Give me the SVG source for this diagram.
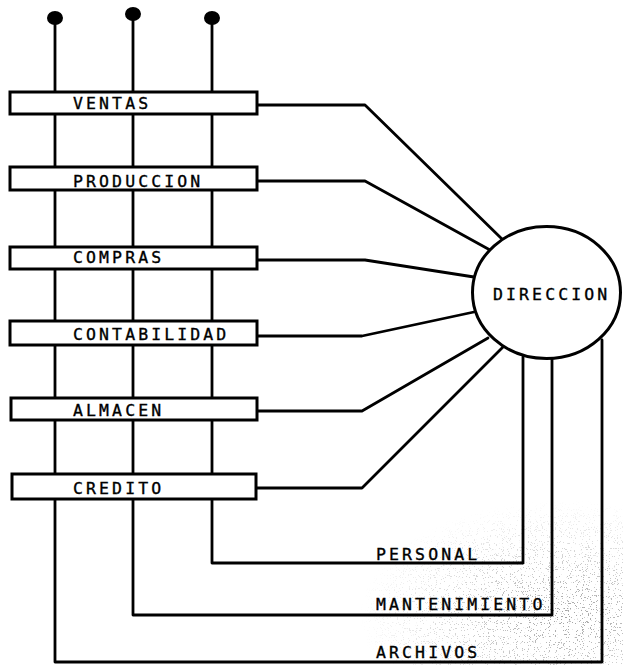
<svg xmlns="http://www.w3.org/2000/svg" width="623" height="665" viewBox="0 0 623 665">
  <style>
    .ln { fill: none; stroke: #000; stroke-width: 2.8; stroke-linejoin: round; stroke-linecap: round; }
    .box { fill: #fff; stroke: #000; stroke-width: 3; }
    .lbl { font-family: "DejaVu Sans Mono", "Liberation Mono", monospace; font-size: 16.5px; letter-spacing: 3.1px; fill: #000; stroke: #000; stroke-width: 0.35; }
    .dot { fill: #000; }
  </style>
  <defs>
    <!-- sparse grey speckle for the worn lower-right corner -->
    <filter id="speckle" x="0" y="0" width="100%" height="100%">
      <feTurbulence type="fractalNoise" baseFrequency="0.85" numOctaves="2" seed="7" result="n"/>
      <feColorMatrix in="n" type="matrix" values="0 0 0 0 0.35  0 0 0 0 0.35  0 0 0 0 0.35  0 0 0 30 -19.5"/>
    </filter>
    <radialGradient id="fade" cx="0.8" cy="0.7" r="0.7">
      <stop offset="0" stop-color="#fff" stop-opacity="1"/>
      <stop offset="1" stop-color="#fff" stop-opacity="0"/>
    </radialGradient>
    <mask id="fadeMask">
      <rect x="330" y="500" width="293" height="165" fill="url(#fade)"/>
    </mask>
  </defs>

  <g id="texture" mask="url(#fadeMask)">
    <rect x="330" y="500" width="293" height="165" filter="url(#speckle)"/>
  </g>

  <!-- vertical buses with terminal dots, and return lines from DIRECCION -->
  <g id="connectors">
    <path class="ln" d="M55,18 V662 H602 V340"/>
    <path class="ln" d="M133,14 V615 H552 V359"/>
    <path class="ln" d="M212,18 V563 H523 V357"/>
    <ellipse class="dot" cx="55" cy="18" rx="8" ry="7"/>
    <ellipse class="dot" cx="133" cy="14" rx="8" ry="7"/>
    <ellipse class="dot" cx="212" cy="18" rx="8" ry="7"/>

    <!-- department links to DIRECCION -->
    <path class="ln" d="M257,105 H365 L503,240"/>
    <path class="ln" d="M257,181 H365 L490,250"/>
    <path class="ln" d="M257,260 H365 L474,277"/>
    <path class="ln" d="M257,336 H362 L474,312"/>
    <path class="ln" d="M257,411 H362 L488,338"/>
    <path class="ln" d="M257,488 H362 L503,347"/>
  </g>

  <g id="ventas">
    <rect class="box" x="10" y="92" width="247" height="22"/>
    <text class="lbl" x="73" y="109">VENTAS</text>
  </g>
  <g id="produccion">
    <rect class="box" x="10" y="167" width="247" height="23"/>
    <text class="lbl" x="73" y="187">PRODUCCION</text>
  </g>
  <g id="compras">
    <rect class="box" x="10" y="247" width="247" height="22"/>
    <text class="lbl" x="73" y="263">COMPRAS</text>
  </g>
  <g id="contabilidad">
    <rect class="box" x="10" y="321" width="247" height="24"/>
    <text class="lbl" x="73" y="340">CONTABILIDAD</text>
  </g>
  <g id="almacen">
    <rect class="box" x="11" y="398" width="246" height="22"/>
    <text class="lbl" x="73" y="416">ALMACEN</text>
  </g>
  <g id="credito">
    <rect class="box" x="12" y="474" width="244" height="25"/>
    <text class="lbl" x="73" y="494">CREDITO</text>
  </g>

  <g id="direccion">
    <ellipse class="box" cx="546.5" cy="292.5" rx="74" ry="66"/>
    <text class="lbl" x="493" y="300">DIRECCION</text>
  </g>

  <g id="return-labels">
    <text class="lbl" x="376" y="560">PERSONAL</text>
    <text class="lbl" x="376" y="610">MANTENIMIENTO</text>
    <text class="lbl" x="376" y="658">ARCHIVOS</text>
  </g>
</svg>
